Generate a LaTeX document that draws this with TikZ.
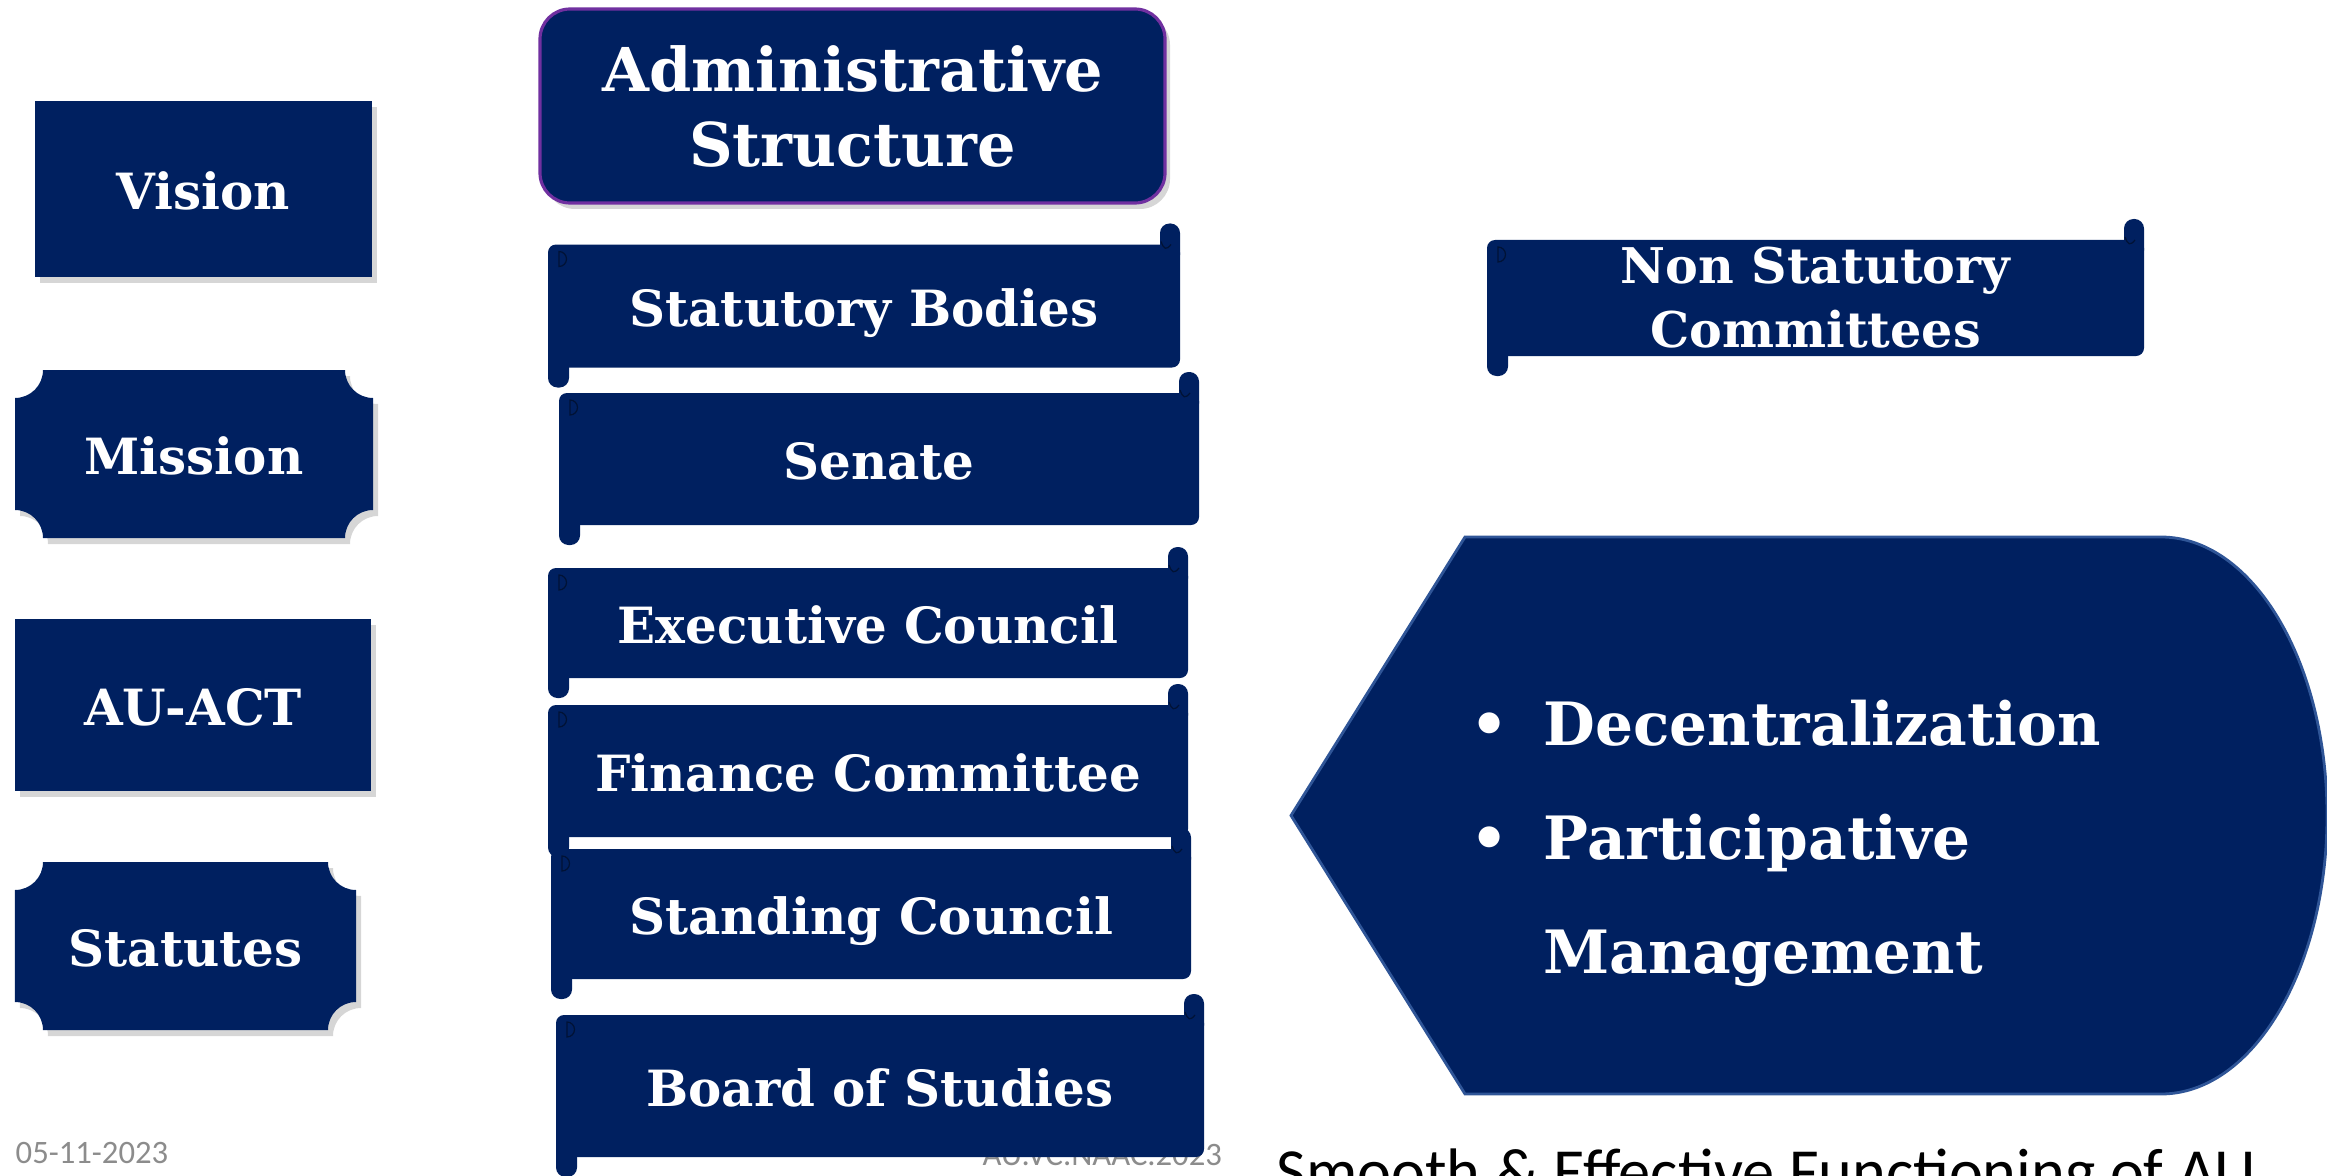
\documentclass[tikz,border=0pt]{standalone}
\usepackage{fontspec}
\newfontfamily\boxfont{DejaVu Serif}
\newfontfamily\footfont{Carlito}
\usetikzlibrary{calc, shadows, backgrounds}
\definecolor{navy}{HTML}{002060}
\definecolor{admpurple}{HTML}{7030A0}
\definecolor{outblue}{HTML}{2F5597}
\definecolor{footgray}{HTML}{8C8C8C}

% concave-cornered box drawn behind a named node
\def\notchr{0.28cm}
\newcommand{\notchfill}[1]{%
  \begin{scope}[on background layer]
    \fill[navy, boxshadow] let \p1=(#1.south west), \p2=(#1.north east) in
      (\x1+\notchr,\y1) -- (\x2-\notchr,\y1) arc[start angle=180, end angle=90, radius=\notchr]
      -- (\x2,\y2-\notchr) arc[start angle=270, end angle=180, radius=\notchr]
      -- (\x1+\notchr,\y2) arc[start angle=0, end angle=-90, radius=\notchr]
      -- (\x1,\y1+\notchr) arc[start angle=90, end angle=0, radius=\notchr] -- cycle;
  \end{scope}}

% rolled ends of a scroll node
\newcommand{\scrollends}[1]{%
  \fill[navy, rounded corners=0.095cm] ($(#1.north east)+(-0.2,-0.2)$) rectangle ($(#1.north east)+(0,0.21)$);
  \fill[navy, rounded corners=0.095cm] ($(#1.south west)+(0,0.2)$) rectangle ($(#1.south west)+(0.21,-0.2)$);
  \draw[curl] ($(#1.north west)+(0.11,-0.07)$) arc[start angle=90, end angle=-90, radius=0.075] -- cycle;
  \draw[curl] ($(#1.north east)+(-0.19,0.03)$) .. controls ++(0.03,-0.08) and ++(-0.05,-0.06) .. ++(0.1,-0.03);}

\begin{document}
\begin{tikzpicture}[
    lbl/.style={text=white, align=center, inner sep=0pt, outer sep=0pt, font=\boxfont\bfseries\fontsize{14.2}{18.2}\selectfont},
    oneline/.style={text height=1.16em, text depth=0pt},
    tile/.style={lbl, oneline},
    boxshadow/.style={drop shadow={shadow xshift=0.05cm, shadow yshift=-0.06cm, opacity=0.16, fill=black}},
    plainbox/.style={tile, fill=navy, boxshadow},
    scrollbody/.style={lbl, fill=navy, rounded corners=0.08cm},
    scroll/.style={scrollbody, oneline},
    curl/.style={draw=navy!55!black, line width=0.35pt},
    foot/.style={font=\footfont\fontsize{9.3}{11}\selectfont, text=footgray, inner sep=0pt}
]
    \useasboundingbox (0,0) rectangle (23.27,-11.75);
    \clip (0,0) rectangle (23.27,-11.75);

    % =========================================================================
    % LEFT COLUMN
    % =========================================================================
    \node (vision) [plainbox, minimum width=3.37cm, minimum height=1.75cm] at (2.03,-1.89) {Vision};
    \node (mission) [tile, minimum width=3.58cm, minimum height=1.68cm] at (1.94,-4.54) {Mission};
    \notchfill{mission}
    \node (auact) [plainbox, minimum width=3.56cm, minimum height=1.72cm] at (1.93,-7.05) {AU-ACT};
    \node (statutes) [tile, minimum width=3.41cm, minimum height=1.68cm] at (1.855,-9.46) {Statutes};
    \notchfill{statutes}

    % =========================================================================
    % ADMINISTRATIVE STRUCTURE
    % =========================================================================
    \node (admin) [lbl, fill=navy, boxshadow, draw=admpurple, line width=0.9pt, rounded corners=0.3cm,
        minimum width=6.25cm, minimum height=1.94cm, text depth=-0.07cm,
        font=\boxfont\bfseries\fontsize{17.2}{21.5}\selectfont] at (8.525,-1.06) {Administrative\\Structure};

    % footer behind the last scroll
    \node (footer) [foot, anchor=west] at (9.82,-11.55) {AU.VC.NAAC.2023};
    \node (date) [foot, anchor=west] at (0.15,-11.53) {05-11-2023};

    % Statutory bodies
    \node (statutory) [scroll, minimum width=6.32cm, minimum height=1.23cm] at (8.64,-3.06) {Statutory Bodies};
    \scrollends{statutory}
    \node (senate) [scroll, minimum width=6.40cm, minimum height=1.32cm] at (8.79,-4.59) {Senate};
    \scrollends{senate}
    \node (exec) [scroll, minimum width=6.40cm, minimum height=1.10cm] at (8.68,-6.23) {Executive Council};
    \scrollends{exec}
    \node (finance) [scroll, minimum width=6.40cm, minimum height=1.32cm] at (8.68,-7.71) {Finance Committee};
    \scrollends{finance}
    \node (standing) [scroll, minimum width=6.40cm, minimum height=1.30cm] at (8.71,-9.14) {Standing Council};
    \scrollends{standing}
    \node (board) [scroll, minimum width=6.48cm, minimum height=1.42cm] at (8.80,-10.86) {Board of Studies};
    \scrollends{board}

    % =========================================================================
    % NON STATUTORY
    % =========================================================================
    \node (nonstat) [scrollbody, minimum width=6.57cm, minimum height=1.16cm,
        font=\boxfont\bfseries\fontsize{14}{18.2}\selectfont] at (18.155,-2.98) {Non Statutory\\Committees};
    \scrollends{nonstat}

    % Display shape with principles
    \filldraw[fill=navy, draw=outblue, line width=0.8pt] (12.91,-8.155) -- (14.65,-5.37) -- (21.61,-5.37)
        arc[start angle=90, end angle=-90, x radius=1.66cm, y radius=2.785cm] -- (14.65,-10.94) -- cycle;
    \node (principles) [anchor=base west, align=left, text=white, inner sep=0pt,
        font=\boxfont\bfseries\fontsize{17}{32.4}\selectfont] at (15.43,-9.73)
        {\llap{\textbullet\hspace{0.35cm}}Decentralization\\\llap{\textbullet\hspace{0.35cm}}Participative\\Management};

    % Label
    \node (tagline) [anchor=base west, inner sep=0pt, font=\footfont\fontsize{18.3}{20}\selectfont] at (12.76,-11.93)
        {Smooth \& Effective Functioning of AU};

\end{tikzpicture}
\end{document}
